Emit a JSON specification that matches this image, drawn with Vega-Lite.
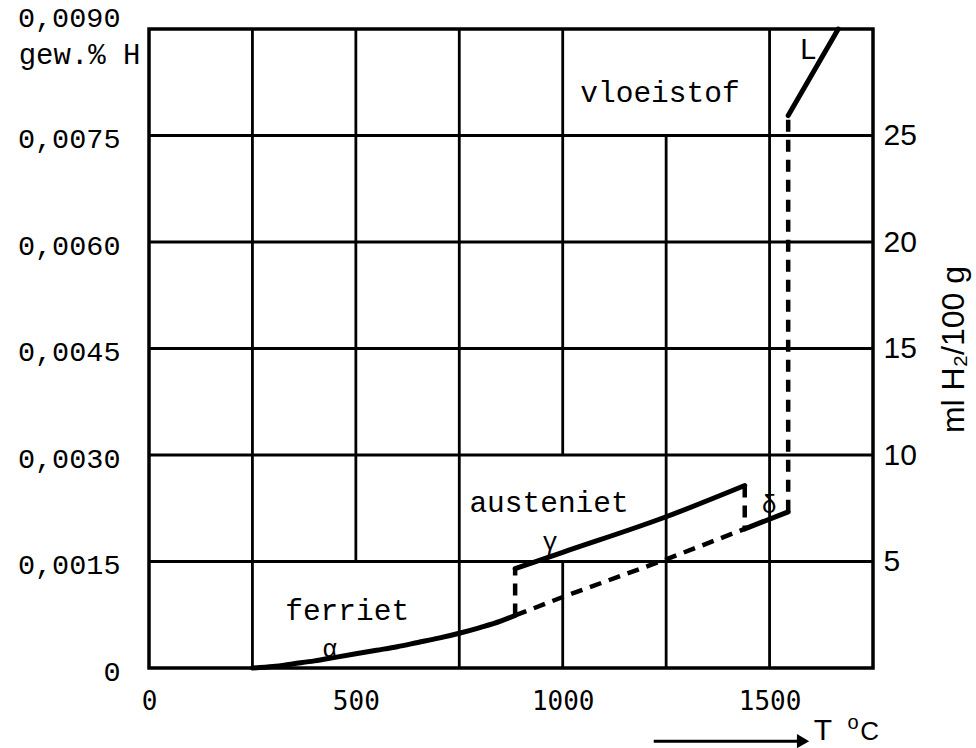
{
  "$schema": "https://vega.github.io/schema/vega-lite/v6.json",
  "width": 724,
  "height": 639,
  "autosize": {"type": "none"},
  "padding": {"left": 149, "top": 29, "right": 103, "bottom": 80},
  "background": "white",
  "config": {"view": {"stroke": "black", "strokeWidth": 3.5}},
  "datasets": {
    "vgrid": [
      {"T": 250, "wt": 0, "wt2": 0.009},
      {"T": 500, "wt": 0.0015, "wt2": 0.009},
      {"T": 750, "wt": 0, "wt2": 0.009},
      {"T": 1000, "wt": 0, "wt2": 0.0015},
      {"T": 1000, "wt": 0.003, "wt2": 0.009},
      {"T": 1250, "wt": 0, "wt2": 0.0075},
      {"T": 1500, "wt": 0, "wt2": 0.009}
    ],
    "hgrid": [{"ml": 5}, {"ml": 10}, {"ml": 15}, {"ml": 20}, {"ml": 25}],
    "solid": [
      {"seg": "alpha", "i": 1, "T": 250, "wt": 0},
      {"seg": "alpha", "i": 2, "T": 300, "wt": 0.00002},
      {"seg": "alpha", "i": 3, "T": 350, "wt": 0.00006},
      {"seg": "alpha", "i": 4, "T": 400, "wt": 0.0001},
      {"seg": "alpha", "i": 5, "T": 450, "wt": 0.00015},
      {"seg": "alpha", "i": 6, "T": 500, "wt": 0.0002},
      {"seg": "alpha", "i": 7, "T": 550, "wt": 0.00025},
      {"seg": "alpha", "i": 8, "T": 600, "wt": 0.0003},
      {"seg": "alpha", "i": 9, "T": 650, "wt": 0.00036},
      {"seg": "alpha", "i": 10, "T": 700, "wt": 0.00042},
      {"seg": "alpha", "i": 11, "T": 750, "wt": 0.00049},
      {"seg": "alpha", "i": 12, "T": 800, "wt": 0.00057},
      {"seg": "alpha", "i": 13, "T": 850, "wt": 0.00066},
      {"seg": "alpha", "i": 14, "T": 885, "wt": 0.00074},
      {"seg": "gamma", "i": 1, "T": 885, "wt": 0.0014},
      {"seg": "gamma", "i": 2, "T": 1000, "wt": 0.00163},
      {"seg": "gamma", "i": 3, "T": 1250, "wt": 0.00213},
      {"seg": "gamma", "i": 4, "T": 1440, "wt": 0.00257},
      {"seg": "delta", "i": 1, "T": 1440, "wt": 0.00196},
      {"seg": "delta", "i": 2, "T": 1545, "wt": 0.0022},
      {"seg": "L", "i": 1, "T": 1545, "wt": 0.00778},
      {"seg": "L", "i": 2, "T": 1666, "wt": 0.009}
    ],
    "dashed": [
      {"seg": "v1", "i": 1, "T": 885, "wt": 0.00074},
      {"seg": "v1", "i": 2, "T": 885, "wt": 0.0014},
      {"seg": "low", "i": 1, "T": 885, "wt": 0.00074},
      {"seg": "low", "i": 2, "T": 1000, "wt": 0.001},
      {"seg": "low", "i": 3, "T": 1250, "wt": 0.00153},
      {"seg": "low", "i": 4, "T": 1440, "wt": 0.00196},
      {"seg": "v2", "i": 1, "T": 1440, "wt": 0.00257},
      {"seg": "v2", "i": 2, "T": 1440, "wt": 0.00196},
      {"seg": "v3", "i": 1, "T": 1545, "wt": 0.0022},
      {"seg": "v3", "i": 2, "T": 1545, "wt": 0.00778}
    ],
    "phases": [
      {"label": "vloeistof", "T": 1235, "wt": 0.0081},
      {"label": "austeniet", "T": 967, "wt": 0.00232},
      {"label": "ferriet", "T": 479, "wt": 0.0008},
      {"label": "L", "T": 1593, "wt": 0.0087}
    ],
    "greek": [
      {"label": "α", "T": 437, "wt": 0.00027},
      {"label": "γ", "T": 969, "wt": 0.00178},
      {"label": "δ", "T": 1499, "wt": 0.0023}
    ],
    "unitT": [{"label": "T", "T": 1629, "wt": -0.00089}],
    "unitO": [{"label": "o", "T": 1702, "wt": -0.00077}],
    "unitC": [{"label": "C", "T": 1742, "wt": -0.0009}],
    "arrow": [{"T": 1220, "T2": 1575, "wt": -0.00103}],
    "arrowhead": [{"T": 1581, "wt": -0.00103}]
  },
  "layer": [
    {
      "encoding": {
        "x": {
          "field": "T", "type": "quantitative",
          "scale": {"domain": [0, 1750], "nice": false, "zero": false},
          "axis": {
            "values": [0, 500, 1000, 1500],
            "format": "d",
            "labelFont": "DejaVu Sans Mono", "labelFontSize": 26, "labelColor": "black",
            "labelPadding": 20, "labelFlush": false,
            "ticks": false, "domain": false, "grid": false, "title": null
          }
        },
        "y": {
          "field": "wt", "type": "quantitative",
          "scale": {"domain": [0, 0.009], "nice": false, "zero": false},
          "axis": {
            "values": [0, 0.0015, 0.003, 0.0045, 0.006, 0.0075, 0.009],
            "labelExpr": "datum.value == 0 ? '0' : replace(format(datum.value, '.4f'), '.', ',')",
            "labelFont": "Liberation Mono", "labelFontSize": 28.5, "labelColor": "black",
            "labelPadding": 29,
            "labelOffset": {"condition": {"test": "datum.value == 0.009", "value": -12}, "value": 3},
            "ticks": false, "domain": false, "grid": false,
            "title": "gew.% H", "titleFont": "Liberation Mono", "titleFontSize": 29,
            "titleFontWeight": "normal", "titleColor": "black", "titleAngle": 0,
            "titleAlign": "right", "titleBaseline": "alphabetic", "titleX": -9, "titleY": 34
          }
        }
      },
      "layer": [
        {
          "data": {"name": "vgrid"},
          "mark": {"type": "rule", "color": "black", "strokeWidth": 2.8},
          "encoding": {"y2": {"field": "wt2"}}
        },
        {
          "data": {"name": "solid"},
          "mark": {"type": "line", "color": "black", "strokeWidth": 5, "strokeCap": "round", "strokeJoin": "round", "interpolate": "monotone"},
          "encoding": {
            "detail": {"field": "seg"},
            "order": {"field": "i", "type": "quantitative"}
          }
        },
        {
          "data": {"name": "dashed"},
          "mark": {"type": "line", "color": "black", "strokeWidth": 4.5, "strokeDash": [12, 8], "strokeCap": "butt"},
          "encoding": {
            "detail": {"field": "seg"},
            "order": {"field": "i", "type": "quantitative"}
          }
        },
        {
          "data": {"name": "phases"},
          "mark": {"type": "text", "font": "Liberation Mono", "fontSize": 29.5, "color": "black", "align": "center", "baseline": "middle"},
          "encoding": {"text": {"field": "label"}}
        },
        {
          "data": {"name": "greek"},
          "mark": {"type": "text", "font": "Liberation Mono", "fontSize": 25, "color": "black", "align": "center", "baseline": "middle"},
          "encoding": {"text": {"field": "label"}}
        },
        {
          "data": {"name": "unitT"},
          "mark": {"type": "text", "font": "Liberation Sans", "fontSize": 30, "color": "black", "align": "center", "baseline": "middle"},
          "encoding": {"text": {"field": "label"}}
        },
        {
          "data": {"name": "unitO"},
          "mark": {"type": "text", "font": "Liberation Sans", "fontSize": 20, "color": "black", "align": "center", "baseline": "middle"},
          "encoding": {"text": {"field": "label"}}
        },
        {
          "data": {"name": "unitC"},
          "mark": {"type": "text", "font": "Liberation Sans", "fontSize": 26, "color": "black", "align": "center", "baseline": "middle"},
          "encoding": {"text": {"field": "label"}}
        },
        {
          "data": {"name": "arrow"},
          "mark": {"type": "rule", "color": "black", "strokeWidth": 3},
          "encoding": {"x2": {"field": "T2"}}
        },
        {
          "data": {"name": "arrowhead"},
          "mark": {"type": "point", "shape": "triangle-right", "filled": true, "color": "black", "size": 200, "opacity": 1}
        }
      ]
    },
    {
      "data": {"name": "hgrid"},
      "mark": {"type": "rule", "color": "black", "strokeWidth": 2.8},
      "encoding": {
        "y": {
          "field": "ml", "type": "quantitative",
          "scale": {"domain": [0, 30], "nice": false, "zero": false},
          "axis": {
            "orient": "right",
            "values": [5, 10, 15, 20, 25],
            "labelFont": "Liberation Sans", "labelFontSize": 30, "labelColor": "black",
            "labelPadding": 10,
            "ticks": false, "domain": false, "grid": false,
            "title": "ml H₂/100 g", "titleFont": "Liberation Sans", "titleFontSize": 32,
            "titleFontWeight": "normal", "titleColor": "black", "titleAngle": 270,
            "titleAlign": "center", "titleBaseline": "middle", "titleX": 80, "titleY": 320
          }
        }
      }
    }
  ],
  "resolve": {"scale": {"y": "independent"}}
}
